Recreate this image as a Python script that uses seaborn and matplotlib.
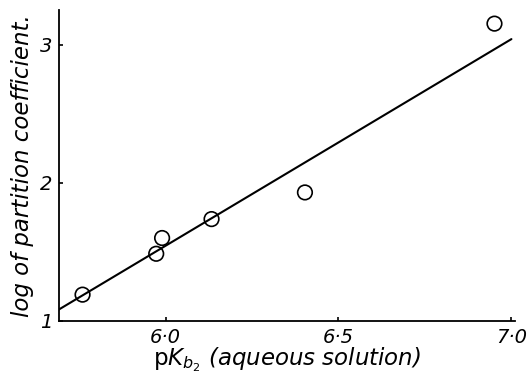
import matplotlib
matplotlib.use("Agg")
import matplotlib.pyplot as plt
import seaborn as sns
import pandas as pd

pkb2 = [5.76, 5.973, 5.99, 6.133, 6.403, 6.951]
log_partition = [1.19, 1.486, 1.60, 1.737, 1.93, 3.152]

# fitted straight line (end points)
fit_x = [5.69, 7.0]
fit_y = [1.08, 3.04]

x_ticks = [6.0, 6.5, 7.0]
x_tick_labels = ["6·0", "6·5", "7·0"]
y_ticks = [1, 2, 3]
y_tick_labels = ["1", "2", "3"]

points = pd.DataFrame({"pkb2": pkb2, "logp": log_partition})
fit = pd.DataFrame({"x": fit_x, "y": fit_y})

sns.set_style("ticks")
plt.rcParams['font.family'] = ['DejaVu Sans']
plt.rcParams['text.color'] = 'black'
plt.rcParams['axes.labelcolor'] = 'black'

fig = plt.figure(figsize=(5.27, 3.74), dpi=100)
ax = fig.add_axes([0.112, 0.142, 0.865, 0.831])

sns.lineplot(data=fit, x="x", y="y", color="black", linewidth=1.5, ax=ax)
sns.scatterplot(data=points, x="pkb2", y="logp", marker="o", s=110,
                facecolor="none", edgecolor="black", linewidth=1.2, ax=ax, zorder=3)

ax.set_xlim(5.692, 7.01)
ax.set_ylim(1.0, 3.25)
ax.set_xticks(x_ticks)
ax.set_xticklabels(x_tick_labels, fontstyle="italic", fontsize=14)
ax.set_yticks(y_ticks)
ax.set_yticklabels(y_tick_labels, fontstyle="italic", fontsize=14)
ax.tick_params(direction="in", length=3, width=1.2, colors="black", pad=5)

for side in ["top", "right"]:
    ax.spines[side].set_visible(False)
for side in ["left", "bottom"]:
    ax.spines[side].set_linewidth(1.3)
    ax.spines[side].set_color("black")

ax.set_xlabel(r"$\mathrm{p}K_{b_2}$" + " (aqueous solution)", fontstyle="italic",
              fontsize=16.5, labelpad=-1)
ax.set_ylabel("log of partition coefficient.", fontstyle="italic",
              fontsize=16.5, labelpad=4)

fig.savefig("out.png", dpi=100)
